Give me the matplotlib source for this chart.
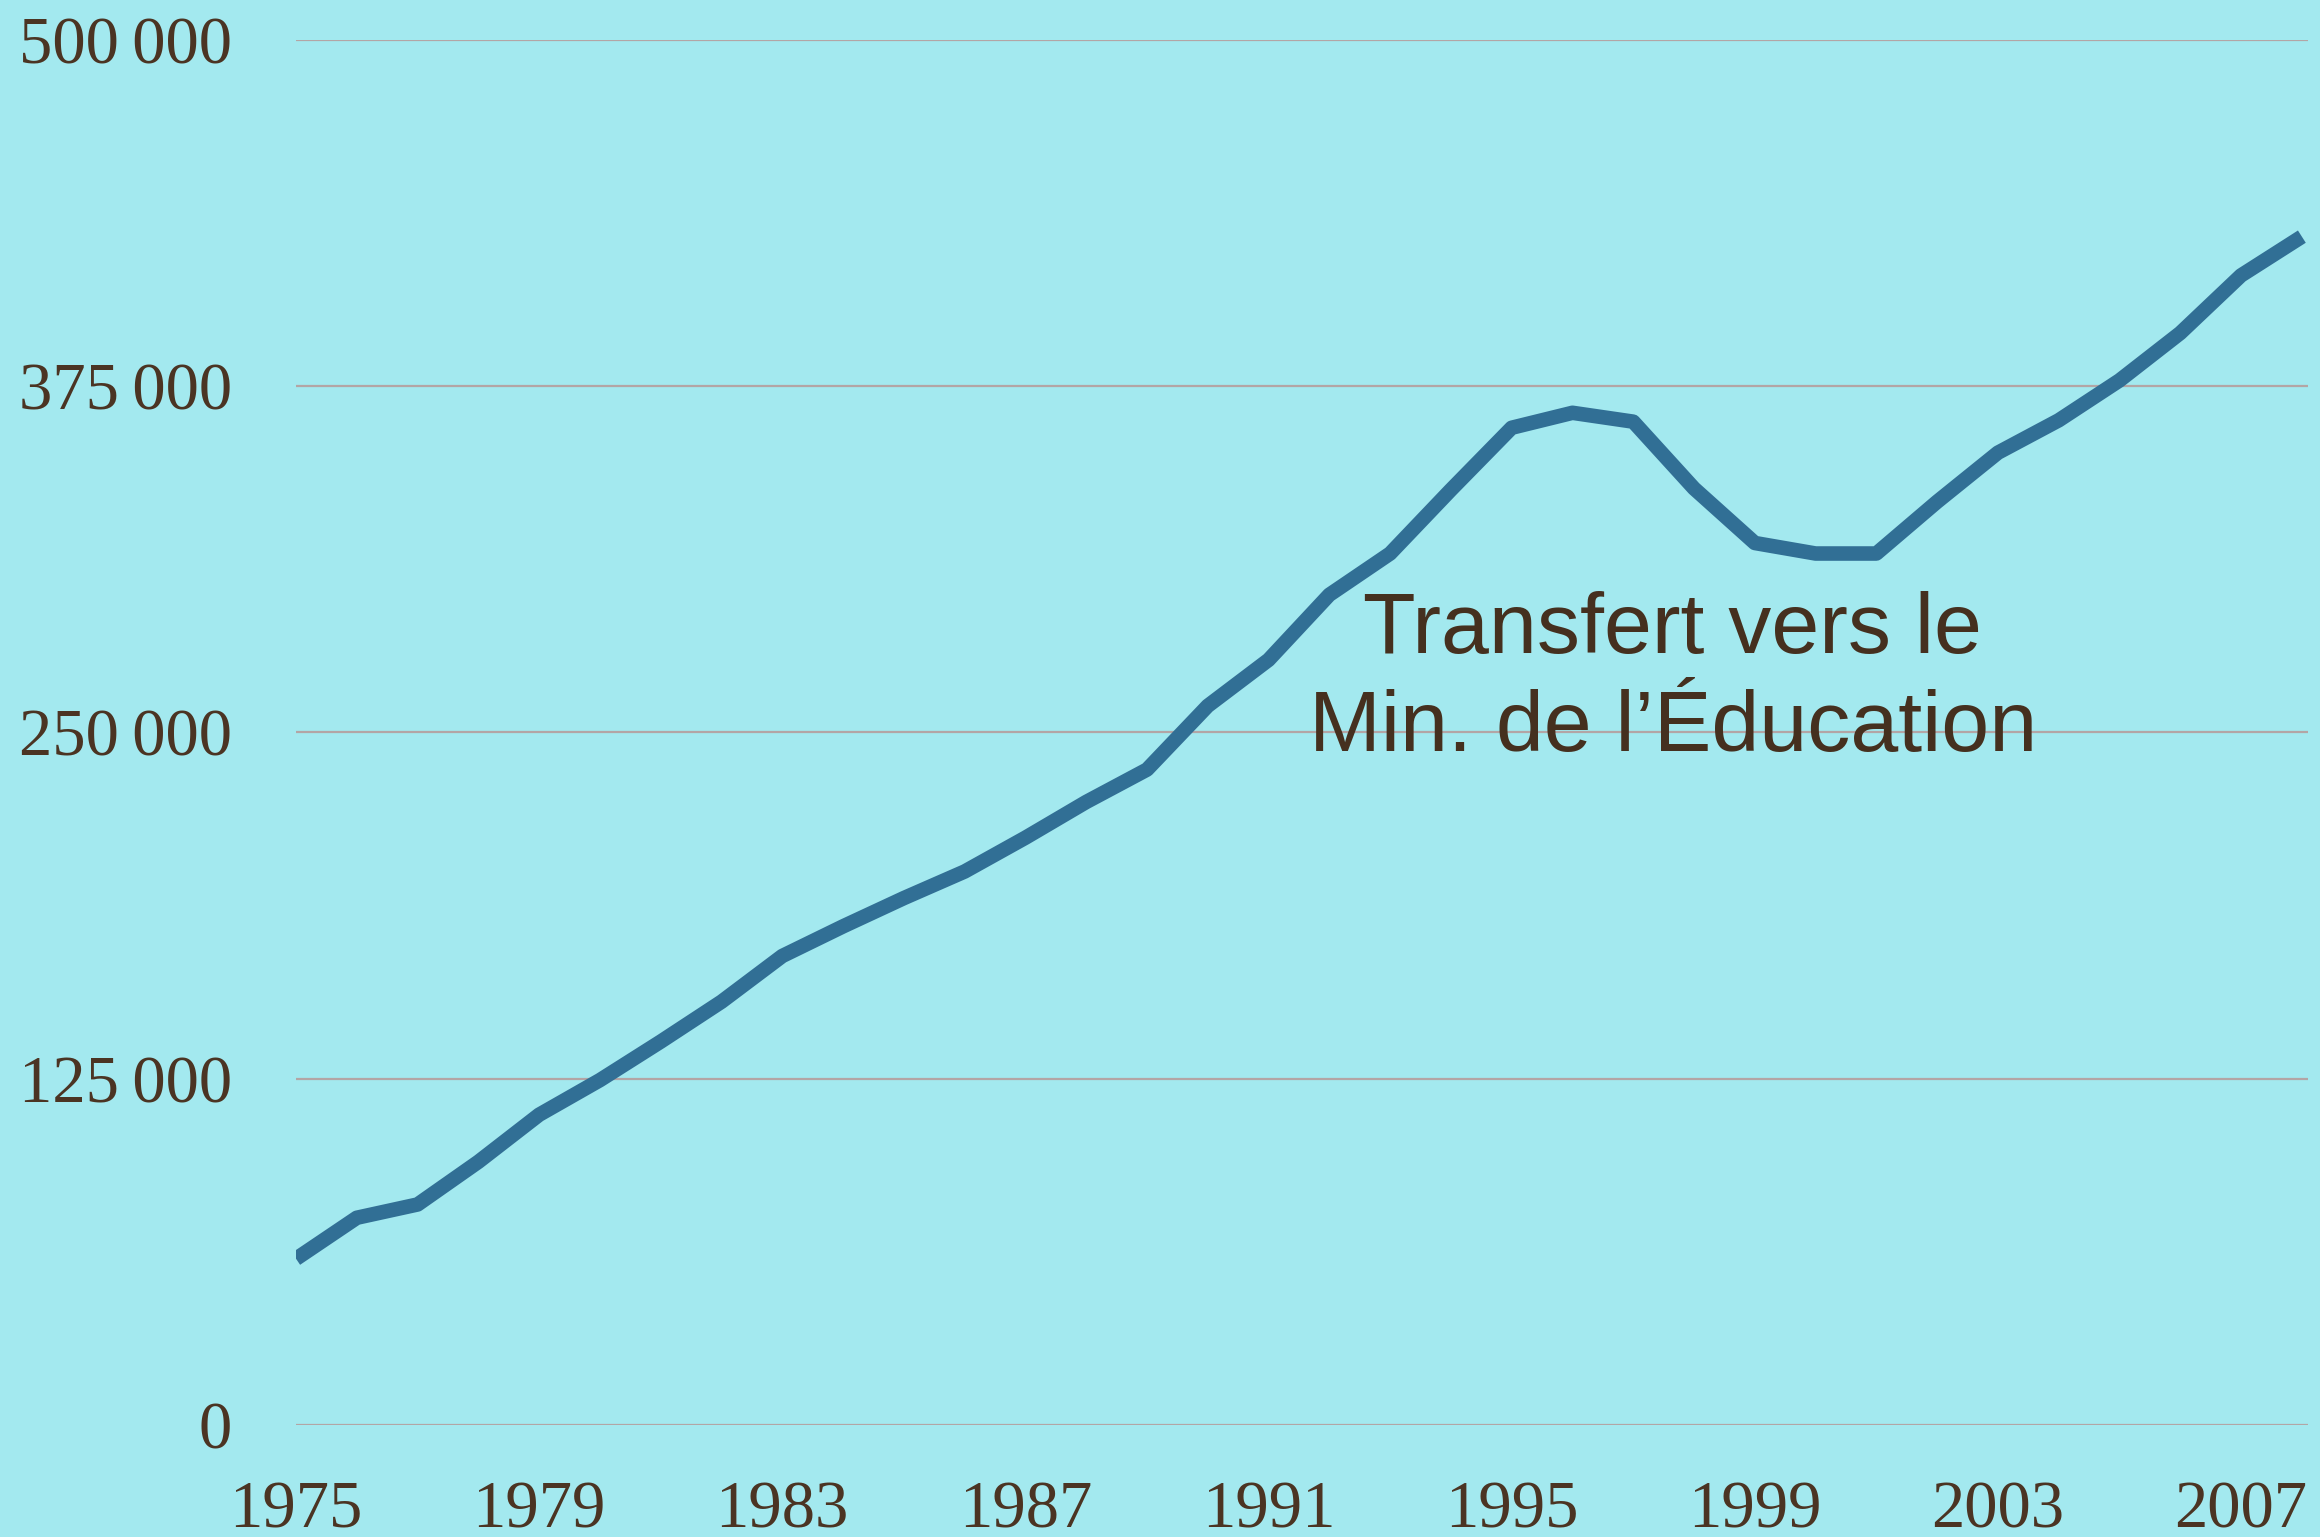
import matplotlib
matplotlib.use('Agg')
import matplotlib.pyplot as plt
from matplotlib.ticker import FuncFormatter

# data
years = list(range(1975, 2009))
values = [60000, 74800, 79600, 95000, 112000, 124500, 138400, 152800, 169300,
          180000, 190200, 199800, 212000, 224900, 236600, 259600, 276200, 299700,
          314600, 337600, 360000, 365400, 362200, 338100, 318400, 314600, 314600,
          333300, 351000, 362700, 377100, 394200, 415000, 429000]

yticks = [0, 125000, 250000, 375000, 500000]
xticks = [1975, 1979, 1983, 1987, 1991, 1995, 1999, 2003, 2007]

bg = '#a3e9ef'
brown = '#4b3423'

fig = plt.figure(figsize=(23.2, 15.37), dpi=100, facecolor=bg)
ax = fig.add_axes([0.1276, 0.0729, 0.8672, 0.9011])
ax.set_facecolor(bg)

ax.plot(years, values, color='#316f95', lw=10.5, solid_capstyle='butt', zorder=3)

ax.set_xlim(1975, 2008.1)
ax.set_ylim(0, 500000)
ax.set_yticks(yticks)
ax.set_xticks(xticks)
ax.yaxis.set_major_formatter(FuncFormatter(lambda v, p: '{:,}'.format(int(v)).replace(',', '\u2009')))
ax.grid(axis='y', color='#b3a5a5', lw=1.6)
ax.grid(axis='x', visible=False)
for s in ax.spines.values():
    s.set_visible(False)
ax.tick_params(length=0, colors=brown, labelsize=48)
ax.tick_params(axis='y', pad=46)
ax.tick_params(axis='x', pad=40)
for lab in ax.get_xticklabels() + ax.get_yticklabels():
    lab.set_fontfamily(['Liberation Serif', 'DejaVu Serif'])

ax.text(1997.65, 301000, 'Transfert vers le\nMin. de l\u2019\u00c9ducation',
        ha='center', va='top', fontsize=62, color='#45301f',
        family=['Liberation Sans', 'DejaVu Sans'], linespacing=1.28, zorder=4)

fig.savefig('out.png', dpi=100, facecolor=bg)
